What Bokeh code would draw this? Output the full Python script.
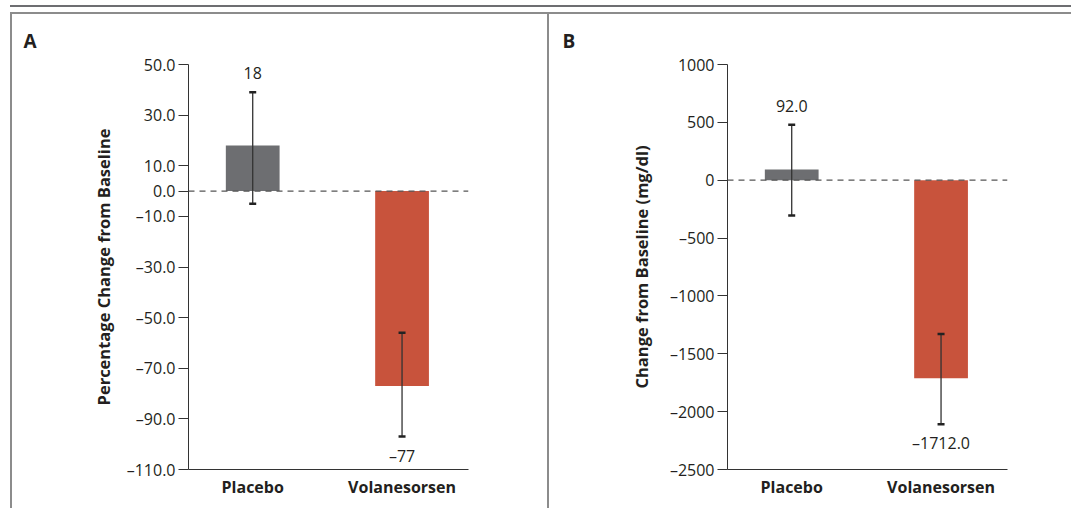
from bokeh.plotting import figure
from bokeh.models import (Range1d, FixedTicker, Span, Whisker, TeeHead,
                          ColumnDataSource)
from bokeh.layouts import row
from bokeh.embed import file_html
from bokeh.resources import INLINE
from bokeh.core.properties import value

# ---------------- data ----------------
categories = ["Placebo", "Volanesorsen"]
bar_colors = ["#6d6e71", "#c8533c"]

pct_change = [18, -77]
pct_lower = [-5, -97]
pct_upper = [39, -56]
pct_labels = ["18", "\u201377"]
pct_ticks = [50, 30, 10, 0, -10, -30, -50, -70, -90, -110]
pct_tick_labels = ["50.0", "30.0", "10.0", "0.0", "\u201310.0", "\u201330.0",
                   "\u201350.0", "\u201370.0", "\u201390.0", "\u2013110.0"]

mg_change = [92.0, -1712.0]
mg_lower = [-305, -2110]
mg_upper = [480, -1330]
mg_labels = ["92.0", "\u20131712.0"]
mg_ticks = [1000, 500, 0, -500, -1000, -1500, -2000, -2500]
mg_tick_labels = ["1000", "500", "0", "\u2013500", "\u20131000", "\u20131500",
                  "\u20132000", "\u20132500"]

FONT = "Open Sans"
TXT = "#231f20"


def panel(letter, ylabel, change, lower, upper, labels, ticks, tick_labels,
          width, left_border, right_border, label_standoff, styles):
    xs = list(range(len(categories)))
    label_y = [u if c > 0 else l for c, l, u in zip(change, lower, upper)]
    label_off = [-19 if c > 0 else 19 for c in change]
    src = ColumnDataSource(dict(x=xs, value=change, lower=lower, upper=upper,
                                color=bar_colors, label=labels,
                                ly=label_y, loff=label_off))
    p = figure(width=width, height=496, output_backend="svg",
               toolbar_location=None,
               x_range=Range1d(-0.43, 1.445),
               y_range=Range1d(min(ticks), max(ticks)),
               min_border_left=left_border, min_border_right=right_border,
               min_border_top=50, min_border_bottom=41,
               styles=styles)
    p.outline_line_color = None
    p.xgrid.visible = False
    p.ygrid.visible = False
    p.background_fill_color = "white"
    p.border_fill_color = "white"

    # panel letter as the plot title
    p.title.text = letter
    p.title.align = "left"
    p.title.vertical_align = "top"
    p.title.offset = -165
    p.title.text_font = FONT
    p.title.text_font_style = "bold"
    p.title.text_font_size = "19px"
    p.title.text_color = TXT
    p.title.standoff = 17

    p.vbar(x="x", top="value", bottom=0, width=0.36, color="color",
           line_color=None, source=src)

    p.add_layout(Span(location=0, dimension="width", line_color="#555555",
                      line_width=1.2, line_dash="6 5", level="overlay"))

    head = dict(size=7, line_width=2.5, line_color="#222222")
    p.add_layout(Whisker(source=src, base="x", upper="upper", lower="lower",
                         line_color="#333333", line_width=1.3,
                         level="overlay",
                         upper_head=TeeHead(**head),
                         lower_head=TeeHead(**head)))

    p.text(x="x", y="ly", text="label", y_offset="loff", source=src,
           text_align="center", text_baseline="middle",
           text_font=value(FONT), text_font_size="16px", text_color=TXT)

    # y axis
    ya = p.yaxis[0]
    ya.ticker = FixedTicker(ticks=ticks)
    ya.major_label_overrides = {t: s for t, s in zip(ticks, tick_labels)}
    ya.minor_tick_line_color = None
    ya.major_tick_in = 0
    ya.major_tick_out = 10
    ya.major_label_standoff = 3
    ya.axis_line_color = "#333333"
    ya.major_tick_line_color = "#333333"
    ya.major_label_text_font = FONT
    ya.major_label_text_font_size = "16px"
    ya.major_label_text_color = TXT
    ya.axis_label = ylabel
    ya.axis_label_text_font = FONT
    ya.axis_label_text_font_style = "bold"
    ya.axis_label_text_font_size = "16.5px"
    ya.axis_label_text_color = TXT
    ya.axis_label_standoff = label_standoff

    # x axis
    xa = p.xaxis[0]
    xa.ticker = FixedTicker(ticks=xs)
    xa.major_label_overrides = {i: c for i, c in zip(xs, categories)}
    xa.major_tick_line_color = None
    xa.minor_tick_line_color = None
    xa.axis_line_color = "#333333"
    xa.major_label_standoff = 0
    xa.major_label_text_font = FONT
    xa.major_label_text_font_style = "bold"
    xa.major_label_text_font_size = "16px"
    xa.major_label_text_color = TXT
    return p


frame_css = "2px solid #8c8c8c"
pa = panel("A", "Percentage Change from Baseline", pct_change, pct_lower,
           pct_upper, pct_labels, pct_ticks, pct_tick_labels,
           width=537, left_border=176, right_border=81, label_standoff=9,
           styles={"border-left": frame_css, "border-top": frame_css})
pb = panel("B", "Change from Baseline (mg/dl)", mg_change, mg_lower,
           mg_upper, mg_labels, mg_ticks, mg_tick_labels,
           width=524, left_border=178, right_border=66, label_standoff=14,
           styles={"border-left": frame_css, "border-top": frame_css})

layout = row(pa, pb, styles={"border-top": "2px solid #6d6e71",
                             "padding-top": "5px", "margin-top": "5px",
                             "margin-left": "10px"})

open("out.html", "w").write(file_html(layout, INLINE))
